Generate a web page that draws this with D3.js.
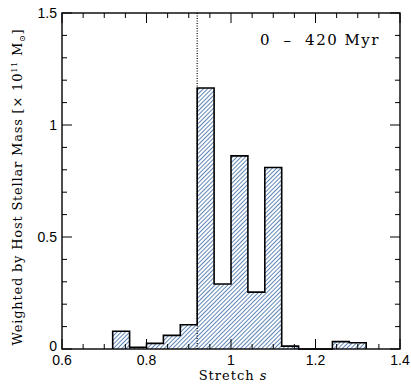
<!DOCTYPE html>
<html>
<head>
<meta charset="utf-8">
<script src="https://cdn.jsdelivr.net/npm/d3@7"></script>
<style>
  body { margin: 0; background: #fff; }
  text { font-family: "DejaVu Serif", serif; fill: #000; }
  text.tick { font-family: "Liberation Sans", sans-serif; }
</style>
</head>
<body>
<div id="chart"></div>
<script>
// bin edges (left edge of each 0.04-wide bin) and weighted values
const binStarts = [0.72, 0.76, 0.80, 0.84, 0.88, 0.92, 0.96, 1.00, 1.04, 1.08, 1.12, 1.16, 1.20, 1.24, 1.28];
const binValues = [0.079, 0.008, 0.025, 0.061, 0.108, 1.165, 0.29, 0.862, 0.254, 0.81, 0.013, 0, 0, 0.033, 0.028];
const binWidth = 0.04;
const cutLine = 0.92;
const xTicks = [0.6, 0.8, 1, 1.2, 1.4];
const yTicks = [0, 0.5, 1, 1.5];
const title = '0 \u2013 420 Myr';

const W = 411, H = 386;
const margin = { top: 13, right: 11, bottom: 37, left: 62 };
const width = W - margin.left - margin.right;
const height = H - margin.top - margin.bottom;

const svg = d3.select('#chart').append('svg')
  .attr('width', W).attr('height', H);

// hatch pattern, "/" direction
const defs = svg.append('defs');
defs.append('pattern')
  .attr('id', 'hatch')
  .attr('patternUnits', 'userSpaceOnUse')
  .attr('width', 3).attr('height', 3)
  .attr('patternTransform', 'rotate(45)')
  .append('line')
  .attr('x1', 0).attr('y1', 0).attr('x2', 0).attr('y2', 3)
  .attr('stroke', '#2a5d9f').attr('stroke-width', 1.5);

const g = svg.append('g').attr('transform', `translate(${margin.left},${margin.top})`);

const x = d3.scaleLinear().domain([0.6, 1.4]).range([0, width]);
const y = d3.scaleLinear().domain([0, 1.5]).range([height, 0]);

// histogram
const bins = binStarts.map((s, i) => ({ x0: s, x1: s + binWidth, v: binValues[i] }));
g.selectAll('rect.bar')
  .data(bins.filter(d => d.v > 0))
  .enter().append('rect')
  .attr('class', 'bar')
  .attr('x', d => x(d.x0))
  .attr('y', d => y(d.v))
  .attr('width', d => x(d.x1) - x(d.x0))
  .attr('height', d => y(0) - y(d.v))
  .attr('fill', 'url(#hatch)');

// outline as a step line
const steps = [[bins[0].x0, 0]];
bins.forEach(d => { steps.push([d.x0, d.v]); steps.push([d.x1, d.v]); });
steps.push([bins[bins.length - 1].x1, 0]);
g.append('path')
  .attr('d', d3.line().x(d => x(d[0])).y(d => y(d[1]))(steps))
  .attr('fill', 'none').attr('stroke', '#000').attr('stroke-width', 1.6);

// dotted cut line
g.append('line')
  .attr('x1', x(cutLine)).attr('x2', x(cutLine))
  .attr('y1', 0).attr('y2', height)
  .attr('stroke', '#000').attr('stroke-width', 1.2)
  .attr('stroke-dasharray', '1,1.5');

// frame
g.append('rect').attr('width', width).attr('height', height)
  .attr('fill', 'none').attr('stroke', '#000').attr('stroke-width', 1.4);

// ticks inside on all sides
const tickG = g.append('g').attr('stroke', '#000').attr('stroke-width', 1);
d3.range(0.6, 1.4001, 0.05).forEach(v => {
  const major = Math.abs(v * 5 - Math.round(v * 5)) < 1e-6;
  const len = major ? 10 : 5;
  tickG.append('line').attr('x1', x(v)).attr('x2', x(v)).attr('y1', height).attr('y2', height - len);
  tickG.append('line').attr('x1', x(v)).attr('x2', x(v)).attr('y1', 0).attr('y2', len);
});
d3.range(0, 1.5001, 0.1).forEach(v => {
  const major = Math.abs(v * 2 - Math.round(v * 2)) < 1e-6;
  const len = major ? 10 : 5;
  tickG.append('line').attr('x1', 0).attr('x2', len).attr('y1', y(v)).attr('y2', y(v));
  tickG.append('line').attr('x1', width).attr('x2', width - len).attr('y1', y(v)).attr('y2', y(v));
});

// tick labels
g.selectAll('text.xt').data(xTicks).enter().append('text')
  .attr('class', 'tick')
  .attr('x', d => x(d)).attr('y', height + 16)
  .attr('text-anchor', 'middle').attr('font-size', 14)
  .text(d => d3.format('')(d));
g.selectAll('text.yt').data(yTicks).enter().append('text')
  .attr('class', 'tick')
  .attr('x', -5).attr('y', d => y(d) + (d === 0 ? 2 : 5))
  .attr('text-anchor', 'end').attr('font-size', 14)
  .text(d => d3.format('')(d));

// axis labels
const xl = svg.append('text')
  .attr('x', margin.left + width / 2 + 2).attr('y', H - 6)
  .attr('text-anchor', 'middle').attr('font-size', 13)
  .attr('letter-spacing', 1);
xl.append('tspan').text('Stretch ');
xl.append('tspan').attr('font-style', 'italic').text('s');

const yl = svg.append('text')
  .attr('transform', `translate(22,${margin.top + height / 2 + 6}) rotate(-90)`)
  .attr('text-anchor', 'middle').attr('font-size', 13)
  .attr('letter-spacing', 0.8);
yl.append('tspan').text('Weighted by Host Stellar Mass [\u00d7 10');
yl.append('tspan').attr('dy', -5).attr('font-size', 8).text('11');
yl.append('tspan').attr('dy', 5).text(' M');
yl.append('tspan').attr('dy', 3).attr('font-size', 8).text('\u2299');
yl.append('tspan').attr('dy', -3).text(']');

// title
g.append('text')
  .attr('x', width - 20).attr('y', 32)
  .attr('text-anchor', 'end').attr('font-size', 15)
  .attr('letter-spacing', 1.5)
  .attr('xml:space', 'preserve')
  .text(title.replace(' \u2013 ', '  \u2013  '));
</script>
</body>
</html>
